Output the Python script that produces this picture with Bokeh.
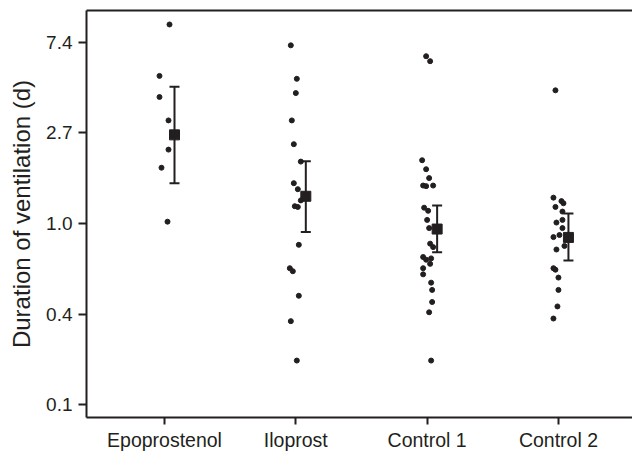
import math
from bokeh.plotting import figure
from bokeh.models import Range1d, FixedTicker, CustomJSTickFormatter, LinearAxis, ColumnDataSource
from bokeh.embed import file_html
from bokeh.resources import INLINE

# ---- data ----
groups = ["Epoprostenol", "Iloprost", "Control 1", "Control 2"]

epoprostenol = [9.0, 5.1, 4.04, 3.12, 2.26, 1.85, 1.02]
iloprost = [7.15, 4.94, 4.22, 3.12, 2.40, 1.98, 1.56, 1.46, 1.29, 1.21, 1.20,
            0.79, 0.61, 0.59, 0.45, 0.34, 0.22]
control1 = [6.34, 6.0, 2.01, 1.82, 1.65, 1.52, 1.51, 1.52, 1.19, 1.15, 1.04, 0.95,
            0.80, 0.77, 0.69, 0.67, 0.68, 0.64, 0.61, 0.57, 0.52, 0.48, 0.42, 0.375, 0.22]
control2 = [4.35, 1.33, 1.28, 1.25, 1.20, 1.14, 1.04, 1.01, 0.95, 0.88, 0.86, 0.78,
            0.75, 0.61, 0.60, 0.55, 0.48, 0.40, 0.35]

geo_mean = [2.66, 1.35, 0.94, 0.857]
ci_low = [1.56, 0.91, 0.727, 0.664]
ci_high = [4.52, 1.99, 1.22, 1.116]

y_ticks = [math.exp(-2), math.exp(-1), 1.0, math.exp(1), math.exp(2)]
y_tick_labels = ["0.1", "0.4", "1.0", "2.7", "7.4"]

# horizontal jitter of the dots (pixels)
jit_epo = [5, -5, -5, 4, 4, -3, 3]
jit_ilo = [-5, 1, 0, -4, -2, 5, -2, 2, 5, -1, 2, 3, -6, -3, 3, -5, 1]
jit_c1 = [-1, 3, -5, -1, 2, -4, -1, 6, -3, 1, 0, 2, 3, 6, -4, -1, 4, 3, -4, -4, 4, 5, 5, 2, 4]
jit_c2 = [-3, -5, 3, 5, -3, 4, 4, -2, 4, 1, -5, 6, -2, -5, -3, 0, 0, -1, -5]

PX = 1 / 131.3  # category units per pixel
MEAN_SHIFT = 10 * PX

INK = "#231f20"
FONT = "Liberation Sans"

p = figure(width=632, height=453, output_backend="svg", toolbar_location=None,
           x_range=Range1d(-0.594, 3.564),
           y_range=Range1d(math.exp(-195 / 91), math.exp(214 / 91)),
           y_axis_type="log",
           min_border_left=86, min_border_right=0, min_border_top=10, min_border_bottom=34)
p.outline_line_color = None
p.grid.visible = False
p.background_fill_color = "white"
p.border_fill_color = "white"

all_series = [epoprostenol, iloprost, control1, control2]
all_jit = [jit_epo, jit_ilo, jit_c1, jit_c2]
xs, ys = [], []
for i, (vals, jit) in enumerate(zip(all_series, all_jit)):
    for v, j in zip(vals, jit):
        xs.append(i + j * PX)
        ys.append(v)
p.scatter(xs, ys, size=5, color=INK, marker="circle")

mx = [i + MEAN_SHIFT for i in range(len(groups))]
src = ColumnDataSource(dict(x=mx, m=geo_mean, lo=ci_low, hi=ci_high))
p.segment(x0="x", y0="lo", x1="x", y1="hi", source=src, line_width=2, line_color=INK)
cap = 5 * PX
p.segment(x0=[x - cap for x in mx], y0=ci_low, x1=[x + cap for x in mx], y1=ci_low,
          line_width=2, line_color=INK)
p.segment(x0=[x - cap for x in mx], y0=ci_high, x1=[x + cap for x in mx], y1=ci_high,
          line_width=2, line_color=INK)
p.scatter(x="x", y="m", source=src, marker="square", size=10, color=INK)

# top frame line as a bare axis
top = LinearAxis(ticker=FixedTicker(ticks=[]), major_tick_line_color=None,
                 minor_tick_line_color=None, major_label_text_font_size="0px",
                 axis_line_width=2, axis_line_color=INK)
p.add_layout(top, "above")

# axes
xa = p.xaxis[0] if p.below else None
xa = p.below[0]
xa.ticker = FixedTicker(ticks=list(range(len(groups))))
xa.major_label_overrides = {i: g for i, g in enumerate(groups)}
xa.minor_tick_line_color = None
xa.major_tick_in = 0
xa.major_tick_out = 7
xa.major_label_standoff = 4

ya = p.left[0]
ya.ticker = FixedTicker(ticks=y_ticks, minor_ticks=[])
ya.formatter = CustomJSTickFormatter(args=dict(tvals=y_ticks, tlabs=y_tick_labels), code="""
const i = tvals.findIndex(t => Math.abs(t - tick) < 1e-6 * t);
return i >= 0 ? tlabs[i] : tick.toFixed(1);
""")
ya.major_tick_in = 0
ya.major_tick_out = 8
ya.major_label_standoff = 6
ya.axis_label = "Duration of ventilation (d)"
ya.axis_label_standoff = 8

for ax in (xa, ya):
    ax.axis_line_width = 2
    ax.axis_line_color = INK
    ax.major_tick_line_width = 2
    ax.major_tick_line_color = INK
    ax.major_label_text_font = FONT
    ax.major_label_text_color = INK
    ax.major_label_text_font_size = "19.5px"
    ax.axis_label_text_font = FONT
    ax.axis_label_text_color = INK
    ax.axis_label_text_font_style = "normal"
ya.axis_label_text_font_size = "24px"
ya.major_label_text_font_size = "19px"

open("out.html", "w").write(file_html(p, INLINE))
